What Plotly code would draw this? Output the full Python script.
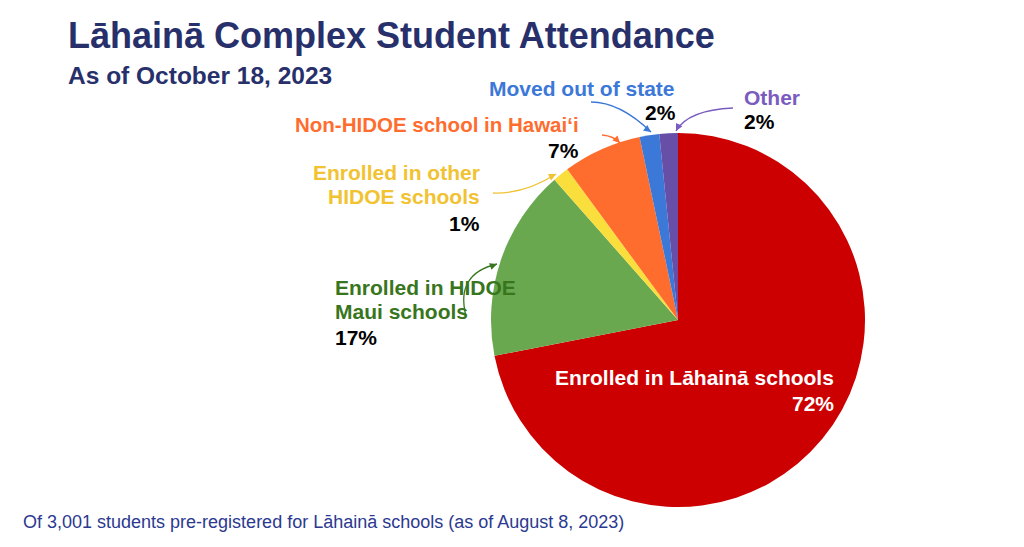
import plotly.graph_objects as go

W, H = 1024, 547

categories = [
    "Enrolled in Lāhainā schools",
    "Enrolled in HIDOE Maui schools",
    "Enrolled in other HIDOE schools",
    "Non-HIDOE school in Hawaiʻi",
    "Moved out of state",
    "Other",
]
shares = [72.0, 16.6, 1.4, 6.8, 1.7, 1.6]
pct_labels = ["72%", "17%", "1%", "7%", "2%", "2%"]
slice_colors = ["#CC0000", "#6AA84F", "#F9DE3C", "#FF6D2E", "#3C78D8", "#674EA7"]
label_colors = ["#FFFFFF", "#38761D", "#F1C232", "#FF6D2E", "#3C78D8", "#7A5CC0"]

FONT = "Liberation Sans, Arial, Helvetica, sans-serif"
NAVY = "#28306B"
LS = 21  # label font size


def px(x, y):
    return x / W, 1 - y / H


fig = go.Figure()
cx, cy, r = 678, 320, 187
fig.add_trace(go.Pie(
    labels=categories,
    values=shares,
    sort=False,
    direction="clockwise",
    rotation=0,
    marker=dict(colors=slice_colors, line=dict(width=0)),
    textinfo="none",
    hoverinfo="label+percent",
    showlegend=False,
    domain=dict(x=[(cx - r) / W, (cx + r) / W], y=[1 - (cy + r) / H, 1 - (cy - r) / H]),
))

ann = []
shapes = []


def text(x, y, s, color, size=LS, xanchor="left", bold=True):
    xx, yy = px(x, y)
    ann.append(dict(x=xx, y=yy, xref="paper", yref="paper", text=f"<b>{s}</b>" if bold else s,
                    showarrow=False, xanchor=xanchor, yanchor="middle",
                    font=dict(family=FONT, size=size, color=color)))


def curve(p0, c, p1, color, prev):
    x0, y0 = px(*p0)
    xc, yc = px(*c)
    x1, y1 = px(*p1)
    shapes.append(dict(type="path", xref="paper", yref="paper",
                       path=f"M {x0} {y0} Q {xc} {yc} {x1} {y1}",
                       line=dict(color=color, width=1.3)))
    tx, ty = px(*p1)
    ann.append(dict(x=tx, y=ty, xref="paper", yref="paper", text="", showarrow=True,
                    arrowhead=2, arrowsize=1.1, arrowwidth=1.3, arrowcolor=color,
                    ax=prev[0] - p1[0], ay=prev[1] - p1[1]))


# Title and notes
text(66, 36, "Lāhainā Complex Student Attendance", NAVY, size=36)
text(66, 76, "As of October 18, 2023", NAVY, size=24.5)
text(21, 522, "Of 3,001 students pre-registered for Lāhainā schools (as of August 8, 2023)",
     "#2B3990", size=18, bold=False)

# Slice labels
text(836, 377, categories[0], label_colors[0], xanchor="right")
text(836, 403, pct_labels[0], label_colors[0], xanchor="right")

text(333, 287, "Enrolled in HIDOE", label_colors[1])
text(333, 311, "Maui schools", label_colors[1])
text(333, 337, pct_labels[1], "#000000")

text(482, 172, "Enrolled in other", label_colors[2], xanchor="right")
text(482, 197, "HIDOE schools", label_colors[2], xanchor="right")
text(482, 223, pct_labels[2], "#000000", xanchor="right")

text(581, 124, categories[3], label_colors[3], size=20.5, xanchor="right")
text(581, 150, pct_labels[3], "#000000", xanchor="right")

text(582, 88, categories[4], label_colors[4], xanchor="center")
text(660, 113, pct_labels[4], "#000000", xanchor="center")

text(742, 97, categories[5], label_colors[5])
text(742, 122, pct_labels[5], "#000000")

# Connector curves
curve((466, 316), (455, 274), (497, 264), label_colors[1], (489, 267))
curve((493, 193), (525, 194), (556, 174), label_colors[2], (548, 178))
curve((602, 135), (614, 136), (620, 143), label_colors[3], (615, 138))
curve((591, 102), (620, 102), (651, 132), "#3C78D8", (644, 127))
curve((733, 108), (688, 110), (676, 131), label_colors[5], (680, 123))

fig.update_layout(
    width=W, height=H,
    margin=dict(l=0, r=0, t=0, b=0),
    paper_bgcolor="white", plot_bgcolor="white",
    annotations=ann, shapes=shapes,
)

fig.write_html("out.html", config={"displayModeBar": False},
               post_script="document.body.style.margin='0';document.body.style.overflow='hidden';")
